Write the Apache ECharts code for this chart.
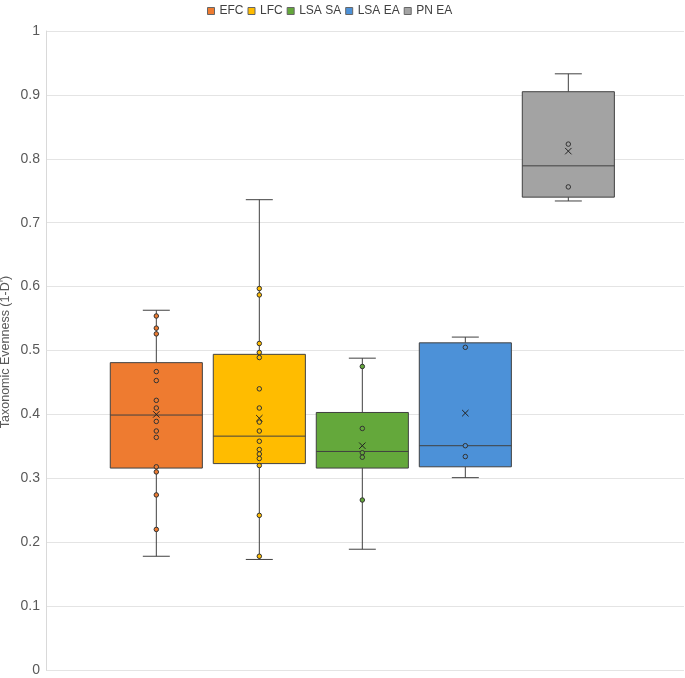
<!DOCTYPE html>
<html>
<head>
<meta charset="utf-8">
<script src="https://cdn.jsdelivr.net/npm/echarts@6/dist/echarts.min.js"></script>
<style>
html,body{margin:0;padding:0;background:#fff;}
#chart{width:685px;height:678px;}
</style>
</head>
<body>
<div id="chart"></div>
<script>
const categories = ['EFC', 'LFC', 'LSA SA', 'LSA EA', 'PN EA'];
const colors = ['#EE7B30', '#FFBC00', '#64A83B', '#4C91D8', '#A3A3A3'];
const boxMin = [0.178, 0.173, 0.189, 0.301, 0.734];
const boxQ1 = [0.316, 0.323, 0.316, 0.318, 0.740];
const boxMedian = [0.399, 0.366, 0.342, 0.351, 0.789];
const boxQ3 = [0.481, 0.494, 0.403, 0.512, 0.905];
const boxMax = [0.563, 0.736, 0.488, 0.521, 0.933];
const means = [0.400, 0.394, 0.351, 0.402, 0.812];
const pointsEFC = [0.554, 0.535, 0.526, 0.467, 0.453, 0.422, 0.410, 0.389, 0.374, 0.364, 0.318, 0.310, 0.274, 0.220];
const pointsLFC = [0.597, 0.587, 0.511, 0.497, 0.489, 0.440, 0.410, 0.388, 0.374, 0.358, 0.345, 0.338, 0.331, 0.320, 0.242, 0.178];
const pointsLSASA = [0.475, 0.378, 0.340, 0.333, 0.266];
const pointsLSAEA = [0.505, 0.351, 0.334];
const pointsPNEA = [0.823, 0.756];
const pointGroups = [pointsEFC, pointsLFC, pointsLSASA, pointsLSAEA, pointsPNEA];
const yTicks = [0, 0.1, 0.2, 0.3, 0.4, 0.5, 0.6, 0.7, 0.8, 0.9, 1];
const yName = "Taxonomic Evenness (1-D')";

const FONT = 'Liberation Sans, Arial, sans-serif';
const BOX_HALF = 0.447;
const CAP_HALF = 0.131;
const STROKE = '#404040';

const boxData = categories.map((c, i) => [i, boxMin[i], boxQ1[i], boxMedian[i], boxQ3[i], boxMax[i], means[i]]);

function renderBox(params, api) {
  const i = api.value(0);
  const cx = api.coord([i, 0])[0];
  const xl = api.coord([i - BOX_HALF, 0])[0];
  const xr = api.coord([i + BOX_HALF, 0])[0];
  const cl = api.coord([i - CAP_HALF, 0])[0];
  const cr = api.coord([i + CAP_HALF, 0])[0];
  const yMin = api.coord([i, api.value(1)])[1];
  const yQ1 = api.coord([i, api.value(2)])[1];
  const yMed = api.coord([i, api.value(3)])[1];
  const yQ3 = api.coord([i, api.value(4)])[1];
  const yMax = api.coord([i, api.value(5)])[1];
  const yMean = api.coord([i, api.value(6)])[1];
  const ls = {stroke: STROKE, lineWidth: 1};
  const m = 3.2;
  return {
    type: 'group',
    children: [
      {type: 'line', shape: {x1: cx, y1: yMax, x2: cx, y2: yQ3}, style: ls},
      {type: 'line', shape: {x1: cx, y1: yQ1, x2: cx, y2: yMin}, style: ls},
      {type: 'line', shape: {x1: cl, y1: yMax, x2: cr, y2: yMax}, style: ls},
      {type: 'line', shape: {x1: cl, y1: yMin, x2: cr, y2: yMin}, style: ls},
      {type: 'rect', shape: {x: xl, y: yQ3, width: xr - xl, height: yQ1 - yQ3}, style: {fill: colors[i], stroke: STROKE, lineWidth: 1}},
      {type: 'line', shape: {x1: xl, y1: yMed, x2: xr, y2: yMed}, style: ls},
      {type: 'line', z2: 10, shape: {x1: cx - m, y1: yMean - m, x2: cx + m, y2: yMean + m}, style: {stroke: '#222', lineWidth: 1}},
      {type: 'line', z2: 10, shape: {x1: cx - m, y1: yMean + m, x2: cx + m, y2: yMean - m}, style: {stroke: '#222', lineWidth: 1}}
    ]
  };
}

const scatterSeries = categories.map((name, i) => ({
  name: name,
  type: 'scatter',
  z: 5,
  symbol: 'circle',
  symbolSize: 4.5,
  itemStyle: {color: colors[i], borderColor: '#333', borderWidth: 1, opacity: 1},
  emphasis: {disabled: true},
  data: pointGroups[i].map(v => [i, v])
}));

const chart = echarts.init(document.getElementById('chart'), null, {renderer: 'canvas'});
chart.setOption({
  animation: false,
  backgroundColor: '#fff',
  textStyle: {fontFamily: FONT},
  legend: {
    data: categories,
    top: 0,
    left: 202,
    icon: 'rect',
    itemWidth: 7,
    itemHeight: 7,
    itemGap: 4,
    textStyle: {fontFamily: FONT, fontSize: 12, color: '#404040'},
    itemStyle: {borderColor: '#666', borderWidth: 1}
  },
  graphic: [{
    type: 'text',
    x: 6,
    y: 352,
    rotation: Math.PI / 2,
    style: {
      text: yName,
      align: 'center',
      verticalAlign: 'middle',
      fontFamily: FONT,
      fontSize: 12.5,
      fill: '#595959'
    }
  }],
  grid: {left: 46, right: 1, top: 31, bottom: 8, containLabel: false, outerBoundsMode: 'none'},
  xAxis: {
    type: 'value',
    min: -1.071,
    max: 5.123,
    show: false,
    splitLine: {show: false}
  },
  yAxis: {
    type: 'value',
    min: yTicks[0],
    max: yTicks[yTicks.length - 1],
    interval: 0.1,
    axisLine: {show: true, onZero: false, lineStyle: {color: '#d9d9d9'}},
    axisTick: {show: false},
    axisLabel: {fontFamily: FONT, fontSize: 14, color: '#595959', margin: 6},
    splitLine: {show: true, lineStyle: {color: '#e4e4e4'}}
  },
  series: [
    {
      type: 'custom',
      name: 'boxes',
      renderItem: renderBox,
      encode: {x: 0, y: [1, 2, 3, 4, 5, 6]},
      data: boxData,
      z: 2,
      silent: true
    }
  ].concat(scatterSeries)
});
</script>
</body>
</html>
